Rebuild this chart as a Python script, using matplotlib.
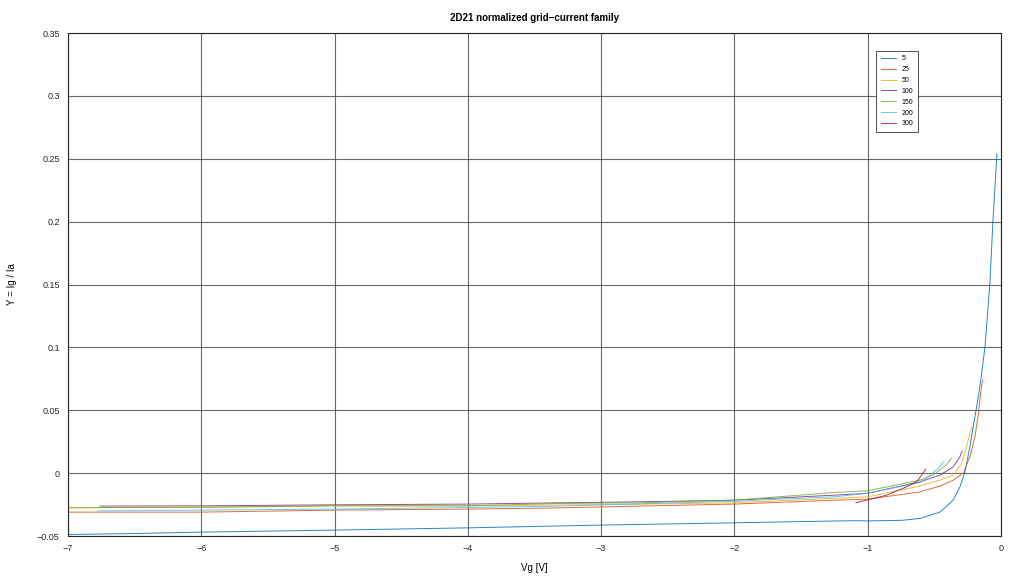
import numpy as np
import matplotlib
matplotlib.use("Agg")
import matplotlib.pyplot as plt
from matplotlib.ticker import FuncFormatter

plt.rcParams['font.family'] = ['Liberation Sans', 'DejaVu Sans']

# Ia levels (legend) and curves: Vg [V] vs Ig/Ia
labels = ["5", "25", "50", "100", "150", "200", "300"]
colors = ["#0072bd", "#d95319", "#edb120", "#7e2f8e", "#77ac30", "#4dbeee", "#a2142f"]

vg_5 = [-7.0, -6.5, -6.0, -5.0, -4.0, -3.0, -2.0, -1.5, -1.1, -1.0, -0.74, -0.608,
        -0.458, -0.358, -0.308, -0.270, -0.233, -0.208, -0.182, -0.158, -0.120,
        -0.083, -0.060, -0.030]
y_5 = [-0.0488, -0.048, -0.0469, -0.0453, -0.0435, -0.0413, -0.0395, -0.0385,
       -0.0378, -0.038, -0.0375, -0.036, -0.031, -0.0215, -0.011, 0.001, 0.021,
       0.037, 0.053, 0.069, 0.100, 0.151, 0.201, 0.254]

vg_25 = [-7.0, -6.0, -5.0, -4.0, -3.31, -2.71, -2.0, -1.25, -1.0, -0.608, -0.458,
         -0.358, -0.283, -0.233, -0.195, -0.170, -0.153, -0.138]
y_25 = [-0.031, -0.031, -0.0294, -0.0286, -0.0276, -0.0262, -0.0246, -0.0215,
        -0.0207, -0.0149, -0.0103, -0.0056, 0.0, 0.013, 0.029, 0.047, 0.063, 0.074]

vg_50 = [-7.0, -6.0, -5.0, -4.0, -2.71, -2.0, -1.25, -1.0, -0.608, -0.458, -0.358,
         -0.295, -0.258, -0.233, -0.215]
y_50 = [-0.0275, -0.0273, -0.026, -0.026, -0.0247, -0.0236, -0.020, -0.0188,
        -0.0103, -0.0056, -0.0016, 0.0077, 0.021, 0.0316, 0.0374]

vg_100 = [-6.76, -6.0, -5.0, -4.0, -3.31, -2.71, -2.0, -1.25, -1.0, -0.608, -0.458,
          -0.358, -0.308, -0.291]
y_100 = [-0.0262, -0.026, -0.0252, -0.0246, -0.0236, -0.0228, -0.0215, -0.0175,
         -0.016, -0.0069, -0.0016, 0.005, 0.013, 0.0175]

vg_150 = [-7.0, -6.0, -5.0, -4.0, -3.31, -2.71, -2.0, -1.25, -1.0, -0.608, -0.52,
          -0.488, -0.413, -0.371]
y_150 = [-0.0275, -0.027, -0.026, -0.026, -0.0241, -0.0236, -0.0215, -0.0154,
         -0.014, -0.0056, -0.002, 0.0, 0.0064, 0.0117]

vg_200 = [-6.78, -6.0, -5.0, -4.0, -3.31, -2.0, -1.25, -1.0, -0.608, -0.533,
          -0.470, -0.428]
y_200 = [-0.030, -0.0294, -0.0286, -0.0273, -0.0262, -0.0223, -0.0188, -0.016,
         -0.0075, -0.0016, 0.0037, 0.0095]

vg_300 = [-1.088, -0.858, -0.708, -0.633, -0.595, -0.565]
y_300 = [-0.0236, -0.0175, -0.0109, -0.0069, -0.0016, 0.0032]

series = [(vg_5, y_5), (vg_25, y_25), (vg_50, y_50), (vg_100, y_100),
          (vg_150, y_150), (vg_200, y_200), (vg_300, y_300)]

fig = plt.figure(figsize=(10.24, 5.76), dpi=100)
ax = fig.add_axes([0.0664, 0.0694, 0.9111, 0.8733])

for (x, y), lab, c in zip(series, labels, colors):
    ax.plot(x, y, color=c, lw=0.7, alpha=0.85, label=lab)

ax.set_xlim(-7, 0)
ax.set_ylim(-0.05, 0.35)
ax.set_xticks(np.arange(-7, 0.5, 1))
ax.set_yticks(np.arange(-0.05, 0.351, 0.05))
fmt = FuncFormatter(lambda v, p: ('%g' % round(v, 4)).replace('-', '\u2212'))
ax.xaxis.set_major_formatter(fmt)
ax.yaxis.set_major_formatter(fmt)
ax.tick_params(labelsize=6.5, colors='#262626', length=0, pad=6)
ax.grid(True, color='#444444', lw=0.8, alpha=0.8)
for s in ax.spines.values():
    s.set_linewidth(0.8)
    s.set_color('#262626')

ax.set_title('2D21 normalized grid\u2212current family', fontsize=7, fontweight='bold', pad=9)
ax.set_xlabel('Vg [V]', fontsize=7, labelpad=7)
ax.set_ylabel('Y = Ig / Ia', fontsize=7, labelpad=14)

leg = ax.legend(loc='upper right', bbox_to_anchor=(0.915, 0.972), fontsize=5,
                handlelength=2.2, labelspacing=0.55, borderpad=0.7,
                fancybox=False, framealpha=1, edgecolor='#333333')
leg.get_frame().set_linewidth(0.6)

fig.savefig('out.png', dpi=100)
